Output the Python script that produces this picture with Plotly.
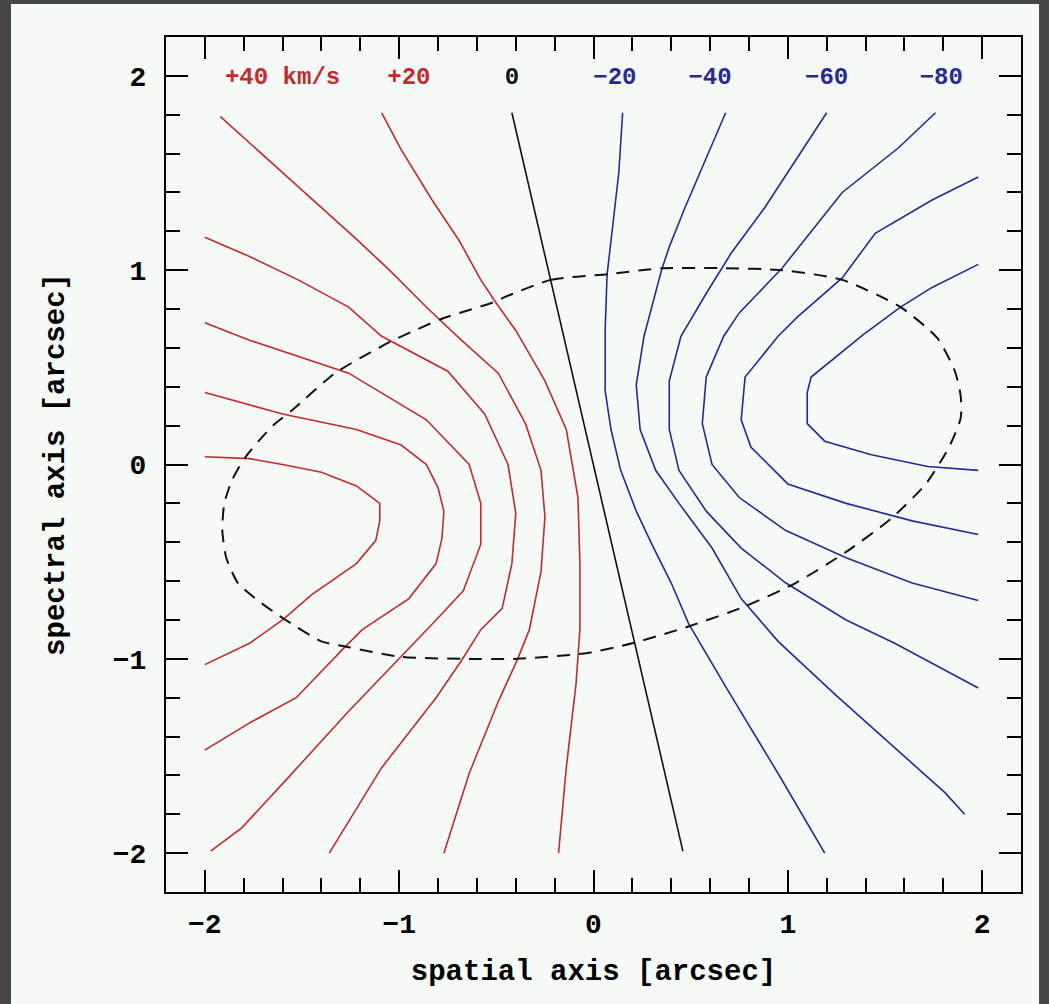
import plotly.graph_objects as go

# ---- contour lines of the velocity field (arcsec) ----
# red: receding side
R1_x = [-2.0, -1.77, -1.60, -1.40, -1.22, -1.10, -1.10, -1.12, -1.22, -1.45, -1.60, -1.77, -2.0]
R1_y = [0.04, 0.03, 0.0, -0.04, -0.11, -0.20, -0.29, -0.39, -0.51, -0.67, -0.80, -0.92, -1.03]
R2_x = [-2.0, -1.60, -1.22, -0.99, -0.86, -0.80, -0.77, -0.78, -0.81, -0.95, -1.19, -1.28, -1.53, -1.77, -2.0]
R2_y = [0.37, 0.26, 0.18, 0.10, 0.0, -0.12, -0.24, -0.38, -0.51, -0.69, -0.85, -0.94, -1.20, -1.33, -1.47]
R3_x = [-2.0, -1.77, -1.26, -0.86, -0.64, -0.58, -0.58, -0.67, -0.81, -0.99, -1.26, -1.57, -1.81, -1.97]
R3_y = [0.73, 0.64, 0.47, 0.23, 0.0, -0.20, -0.41, -0.65, -0.80, -0.99, -1.27, -1.61, -1.87, -1.99]
R4_x = [-2.0, -1.77, -1.52, -1.26, -1.09, -0.75, -0.56, -0.44, -0.40, -0.42, -0.47, -0.58, -0.68, -0.81, -1.09, -1.36]
R4_y = [1.17, 1.07, 0.95, 0.81, 0.66, 0.48, 0.26, 0.0, -0.25, -0.51, -0.74, -0.85, -1.01, -1.20, -1.56, -2.0]
R5_x = [-1.92, -1.71, -1.52, -1.22, -1.05, -0.85, -0.68, -0.49, -0.35, -0.27, -0.25, -0.27, -0.33, -0.39, -0.49, -0.64, -0.77]
R5_y = [1.79, 1.60, 1.43, 1.16, 1.0, 0.80, 0.64, 0.47, 0.21, -0.03, -0.27, -0.55, -0.85, -1.0, -1.22, -1.59, -2.0]
R6_x = [-1.09, -0.99, -0.83, -0.69, -0.58, -0.50, -0.40, -0.25, -0.14, -0.08, -0.07, -0.07, -0.09, -0.14, -0.18]
R6_y = [1.81, 1.62, 1.36, 1.15, 0.95, 0.83, 0.69, 0.43, 0.18, -0.17, -0.51, -0.85, -1.13, -1.56, -2.0]

# black: systemic velocity
Z_x = [-0.42, 0.46]
Z_y = [1.81, -1.99]

# blue: approaching side
B1_x = [0.15, 0.13, 0.09, 0.07, 0.06, 0.06, 0.09, 0.14, 0.22, 0.30, 0.40, 0.49, 0.69, 0.95, 1.19]
B1_y = [1.81, 1.50, 1.15, 0.98, 0.69, 0.38, 0.18, -0.03, -0.24, -0.41, -0.61, -0.82, -1.16, -1.59, -2.0]
B2_x = [0.68, 0.58, 0.47, 0.39, 0.35, 0.26, 0.22, 0.24, 0.32, 0.44, 0.61, 0.76, 0.95, 1.24, 1.43, 1.62, 1.81, 1.91]
B2_y = [1.81, 1.58, 1.32, 1.12, 1.0, 0.66, 0.41, 0.18, -0.03, -0.20, -0.43, -0.69, -0.91, -1.18, -1.35, -1.52, -1.69, -1.80]
B3_x = [1.20, 1.05, 0.88, 0.71, 0.58, 0.45, 0.39, 0.39, 0.44, 0.58, 0.76, 0.99, 1.30, 1.55, 1.72, 1.98]
B3_y = [1.81, 1.58, 1.32, 1.09, 0.88, 0.66, 0.43, 0.18, -0.03, -0.24, -0.43, -0.61, -0.80, -0.92, -1.01, -1.15]
B4_x = [1.76, 1.57, 1.28, 0.97, 0.75, 0.67, 0.58, 0.56, 0.61, 0.75, 0.99, 1.30, 1.64, 1.98]
B4_y = [1.81, 1.63, 1.40, 1.01, 0.78, 0.66, 0.45, 0.21, 0.0, -0.17, -0.34, -0.48, -0.61, -0.70]
B5_x = [1.98, 1.74, 1.45, 1.28, 1.05, 0.95, 0.78, 0.76, 0.81, 1.0, 1.30, 1.64, 1.98]
B5_y = [1.48, 1.36, 1.19, 0.96, 0.76, 0.66, 0.45, 0.23, 0.09, -0.10, -0.20, -0.29, -0.36]
B6_x = [1.98, 1.74, 1.58, 1.39, 1.12, 1.10, 1.10, 1.19, 1.43, 1.72, 1.98]
B6_y = [1.03, 0.91, 0.81, 0.67, 0.45, 0.37, 0.21, 0.12, 0.05, -0.01, -0.03]

# dashed aperture outline
ellipse_x = [-0.46, -0.22, 0.08, 0.35, 0.68, 0.97, 1.28, 1.58, 1.77, 1.86, 1.89, 1.89,
             1.83, 1.71, 1.53, 1.30, 1.04, 0.78, 0.50, 0.20, -0.03, -0.39, -0.68,
             -0.99, -1.26, -1.40, -1.60, -1.74, -1.83, -1.89, -1.91, -1.90, -1.86,
             -1.79, -1.65, -1.55, -1.33, -1.05, -0.92, -0.78, -0.50, -0.46]
ellipse_y = [0.86, 0.95, 0.98, 1.01, 1.01, 1.0, 0.95, 0.81, 0.65, 0.48, 0.35, 0.24,
             0.09, -0.10, -0.28, -0.45, -0.61, -0.73, -0.83, -0.92, -0.97, -1.0, -1.0,
             -0.99, -0.94, -0.91, -0.79, -0.69, -0.61, -0.48, -0.34, -0.20, -0.08,
             0.04, 0.20, 0.28, 0.47, 0.63, 0.69, 0.75, 0.84, 0.86]

# velocity labels along the top
label_text = ["+40 km/s", "+20", "0", "\u221220", "\u221240", "\u221260", "\u221280"]
label_x = [-1.60, -0.95, -0.42, 0.11, 0.60, 1.20, 1.79]
label_y = [1.99, 1.99, 1.99, 1.99, 1.99, 1.99, 1.99]

RED = "#c42a2e"
BLUE = "#28289a"
BLACK = "#111111"
LIGHT = "#f5faf7"
DARK = "#464646"
FONT = "Liberation Mono, Courier New, monospace"

fig = go.Figure()

for xs, ys in [(R1_x, R1_y), (R2_x, R2_y), (R3_x, R3_y), (R4_x, R4_y), (R5_x, R5_y), (R6_x, R6_y)]:
    fig.add_trace(go.Scatter(x=xs, y=ys, mode="lines", line=dict(color=RED, width=1.6),
                             hoverinfo="skip", showlegend=False))

fig.add_trace(go.Scatter(x=Z_x, y=Z_y, mode="lines", line=dict(color=BLACK, width=1.6),
                         hoverinfo="skip", showlegend=False))

for xs, ys in [(B1_x, B1_y), (B2_x, B2_y), (B3_x, B3_y), (B4_x, B4_y), (B5_x, B5_y), (B6_x, B6_y)]:
    fig.add_trace(go.Scatter(x=xs, y=ys, mode="lines", line=dict(color=BLUE, width=1.6),
                             hoverinfo="skip", showlegend=False))

fig.add_trace(go.Scatter(x=ellipse_x, y=ellipse_y, mode="lines",
                         line=dict(color=BLACK, width=2, dash="13px,9px", shape="spline", smoothing=0.6),
                         hoverinfo="skip", showlegend=False))

label_colors = [RED, RED, BLACK, BLUE, BLUE, BLUE, BLUE]
fig.add_trace(go.Scatter(x=label_x, y=label_y, mode="text", text=label_text,
                         textposition="middle center",
                         textfont=dict(family=FONT, size=24, color=label_colors, weight="bold"),
                         hoverinfo="skip", showlegend=False))

axis_common = dict(
    range=[-2.2, 2.2], dtick=1, tick0=0,
    ticks="inside", ticklen=22, tickwidth=2, tickcolor="black",
    minor=dict(dtick=0.2, ticks="inside", ticklen=14, tickwidth=2, tickcolor="black"),
    showline=True, linewidth=2, linecolor="black", mirror="allticks",
    showgrid=False, zeroline=False,
    tickfont=dict(family=FONT, size=28, color="black", weight="bold"),
)

fig.update_layout(
    width=1049, height=1004,
    margin=dict(l=166, r=28, t=37, b=112),
    paper_bgcolor=DARK, plot_bgcolor=LIGHT,
    xaxis=dict(axis_common, ticklabelstandoff=5,
               title=dict(text="spatial axis [arcsec]", standoff=20,
                          font=dict(family=FONT, size=29, color="black", weight="bold"))),
    yaxis=dict(axis_common, ticklabelstandoff=12,
               title=dict(text="spectral axis [arcsec]", standoff=40,
                          font=dict(family=FONT, size=29, color="black", weight="bold"))),
    shapes=[dict(type="rect", xref="paper", yref="paper", layer="below",
                 x0=-0.1813, x1=1.0211, y0=-0.131, y1=1.0386,
                 fillcolor=LIGHT, line=dict(width=0))],
)

fig.write_html("out.html")
